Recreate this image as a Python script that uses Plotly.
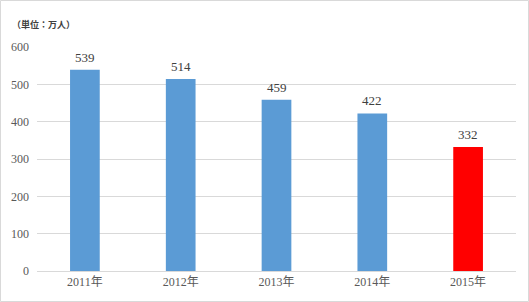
import plotly.graph_objects as go

years = ["2011年", "2012年", "2013年", "2014年", "2015年"]
values = [539, 514, 459, 422, 332]
colors = ["#5B9BD5", "#5B9BD5", "#5B9BD5", "#5B9BD5", "#FF0000"]
yticks = [0, 100, 200, 300, 400, 500, 600]

W, H = 529, 302
L, R, T, B = 37, 13, 47, 31
pw, ph = W - L - R, H - T - B

font = dict(family="Liberation Serif, Noto Sans CJK JP", size=12, color="#595959")

fig = go.Figure(go.Bar(
    x=years, y=values, marker=dict(color=colors, line=dict(width=0)),
    width=0.31, cliponaxis=False,
))

annotations = [dict(x=yr, y=v, text=str(v), xref="x", yref="y", showarrow=False,
                    yanchor="bottom", yshift=3,
                    font=dict(family="Liberation Serif, Noto Sans CJK JP", size=13, color="#404040"))
               for yr, v in zip(years, values)]
annotations.append(dict(text="<b>（単位：万人）</b>", xref="paper", yref="paper",
                        x=(10 - L) / pw, y=(H - B - 24) / ph, xanchor="left", yanchor="middle",
                        showarrow=False,
                        font=dict(family="Noto Sans CJK JP", size=9, color="#404040")))

fig.update_layout(
    width=W, height=H, margin=dict(l=L, r=R, t=T, b=B),
    paper_bgcolor="white", plot_bgcolor="white", showlegend=False,
    font=font, bargap=0.69,
    xaxis=dict(showgrid=False, showline=True, linecolor="#d9d9d9", linewidth=1,
               ticks="", tickfont=font),
    yaxis=dict(range=[0, 600], tickvals=yticks, showgrid=True, gridcolor="#d9d9d9",
               gridwidth=1, zeroline=False, showline=False, ticks="", tickfont=font,
               ticklabelstandoff=7),
    annotations=annotations,
    shapes=[dict(type="rect", xref="paper", yref="paper",
                 x0=(0.5 - L) / pw, x1=(W - 0.5 - L) / pw,
                 y0=-(B - 0.5) / ph, y1=(H - 0.5 - B) / ph,
                 line=dict(color="#d9d9d9", width=1))],
)
fig.write_html("out.html")
